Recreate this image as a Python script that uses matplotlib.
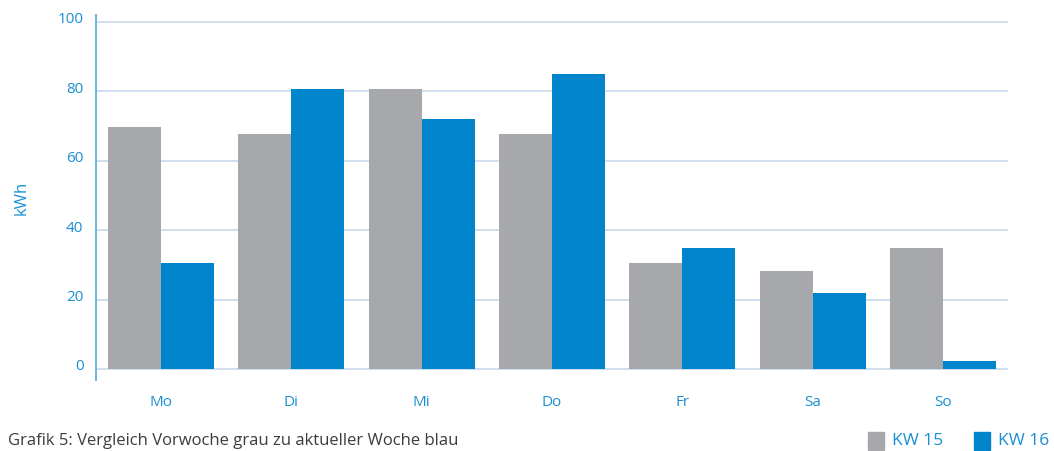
import matplotlib.pyplot as plt
import matplotlib.transforms as mtransforms
import numpy as np
from matplotlib.patches import Rectangle

plt.rcParams["font.family"] = ["Open Sans", "DejaVu Sans"]

# Energy use per weekday, previous week (grey) vs. current week (blue)
days = ["Mo", "Di", "Mi", "Do", "Fr", "Sa", "So"]
kw15 = [69.6, 67.6, 80.6, 67.6, 30.5, 28.2, 34.8]
kw16 = [30.4, 80.6, 71.9, 84.9, 34.8, 21.9, 2.3]
y_ticks = [0, 20, 40, 60, 80, 100]

GREY = "#a7a8ab"
BLUE = "#0085cc"
TEXT_BLUE = "#1a8fd3"
GRID = "#cadcef"
SPINE = "#6db4e2"

W, H = 1054, 451
fig = plt.figure(figsize=(W / 100, H / 100), dpi=100)
ax = fig.add_axes([96 / W, (H - 380) / H, 912 / W, 365 / H])

x = np.arange(len(days))
bw = 0.407
ax.bar(x - bw / 2, kw15, width=bw, color=GREY, zorder=3)
ax.bar(x + bw / 2, kw16, width=bw, color=BLUE, zorder=3)

ax.set_xlim(-0.5, len(days) - 0.5)
ax.set_ylim(-3.2, 102)
ax.set_yticks(y_ticks)
ax.set_xticks(x)
ax.set_xticklabels(days)
for t in y_ticks:
    ax.axhline(t, color=GRID, lw=1.3, zorder=1)

for side in ["top", "right", "bottom"]:
    ax.spines[side].set_visible(False)
ax.spines["left"].set_color(SPINE)
ax.spines["left"].set_linewidth(1.4)
ax.tick_params(axis="both", length=0, colors=TEXT_BLUE, labelsize=11)
ax.tick_params(axis="y", pad=9)
ax.tick_params(axis="x", pad=11)
ax.set_ylabel("kWh", color=TEXT_BLUE, fontsize=12, labelpad=20)

# y labels sit a little above their gridlines
lift = mtransforms.ScaledTranslation(0, 4 / 100, fig.dpi_scale_trans)
for lbl in ax.get_yticklabels():
    lbl.set_transform(lbl.get_transform() + lift)

fig.text(8 / W, 1 - 441 / H, "Grafik 5: Vergleich Vorwoche grau zu aktueller Woche blau",
         color="#3c3c3b", fontsize=12, va="center", ha="left")

# Legend drawn as figure-level squares and labels
for sx, label, col in [(868, "KW 15", GREY), (974, "KW 16", BLUE)]:
    fig.add_artist(Rectangle((sx / W, 1 - 450 / H), 16 / W, 18 / H,
                             transform=fig.transFigure, color=col))
    fig.text((sx + 24) / W, 1 - 441 / H, label, color=TEXT_BLUE,
             fontsize=12.5, va="center", ha="left")

fig.savefig("out.png", dpi=100)
